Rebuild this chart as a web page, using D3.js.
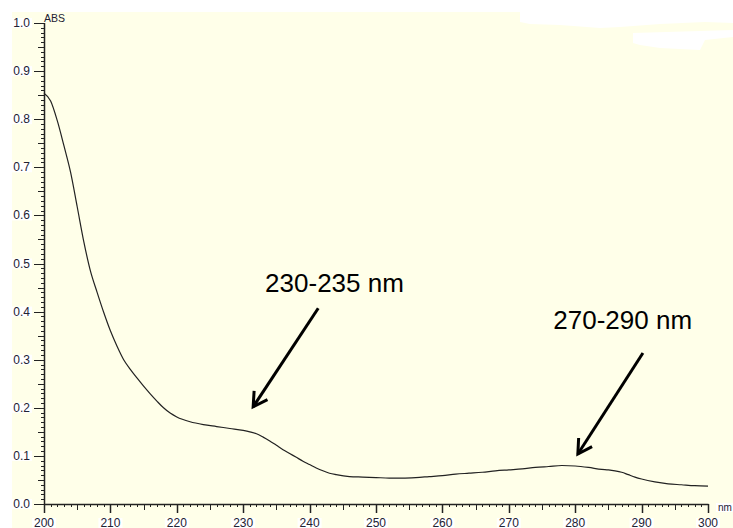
<!DOCTYPE html>
<html>
<head>
<meta charset="utf-8">
<script src="https://cdn.jsdelivr.net/npm/d3@7"></script>
<style>
  body { margin: 0; background: #fff; }
  svg { display: block; }
  text { font-family: "Liberation Sans", Arial, sans-serif; }
</style>
</head>
<body>
<svg id="chart" width="733" height="528"></svg>
<script>
// spectrum (nm, ABS)
const wavelengths = [200, 201, 202, 203, 204, 205, 206, 207, 208, 209, 210, 211, 212, 213, 214, 215, 216, 217, 218, 219,
  220, 222, 224, 226, 228, 230, 231, 232, 233, 234, 235, 236, 237, 238, 239, 240, 241, 242, 243, 244,
  246, 248, 250, 252, 254, 256, 258, 260, 262, 264, 266, 268, 270, 272, 274, 276, 278, 280, 282, 284,
  285, 286, 287, 288, 289, 290, 292, 294, 296, 298, 300];
const absorbance = [0.854, 0.838, 0.797, 0.745, 0.690, 0.618, 0.545, 0.484, 0.440, 0.398, 0.360, 0.328, 0.300, 0.280, 0.262, 0.245, 0.229, 0.214, 0.200, 0.189,
  0.181, 0.171, 0.165, 0.161, 0.157, 0.153, 0.150, 0.146, 0.139, 0.131, 0.122, 0.113, 0.105, 0.097, 0.089, 0.082, 0.075, 0.069, 0.064, 0.061,
  0.057, 0.056, 0.055, 0.054, 0.054, 0.055, 0.057, 0.059, 0.062, 0.064, 0.066, 0.069, 0.071, 0.073, 0.076, 0.078, 0.080, 0.079, 0.076, 0.072,
  0.071, 0.069, 0.066, 0.061, 0.056, 0.052, 0.046, 0.042, 0.040, 0.038, 0.037];

const xTicks = [200, 210, 220, 230, 240, 250, 260, 270, 280, 290, 300];
const yTicks = [0.0, 0.1, 0.2, 0.3, 0.4, 0.5, 0.6, 0.7, 0.8, 0.9, 1.0];

// annotations: label position and arrow tail -> tip, in data units
const annoLabels = ["230-235 nm", "270-290 nm"];
const annoText = [[233.3, 0.441], [276.7, 0.364]];
const annoTail = [[241.3, 0.407], [290.2, 0.314]];
const annoTip = [[231.5, 0.202], [280.4, 0.104]];

const svg = d3.select("#chart");

const x = d3.scaleLinear().domain([200, 300]).range([44, 708]);
const y = d3.scaleLinear().domain([0, 1]).range([504, 23]);

// pale yellow plot paper
svg.append("rect")
  .attr("x", 12).attr("y", 12)
  .attr("width", 721).attr("height", 516)
  .attr("fill", "#ffffe9");

// white scraps at the top right of the scan
svg.append("path")
  .attr("d", "M520,12 L733,12 L733,23 L705,22 L660,24 L620,27 L600,28 L560,25 L530,24 L520,22 Z")
  .attr("fill", "#fff");
svg.append("path")
  .attr("d", "M633,33 L700,31 L733,30 L733,37 L705,40 L700,50 L660,48 L640,45 L633,43 Z")
  .attr("fill", "#fff");

// minor ticks
const yMinor = d3.range(0, 101).map(d => d / 100);
svg.append("g")
  .selectAll("line")
  .data(yMinor)
  .enter()
  .append("line")
  .attr("x1", d => Math.round(d * 100) % 10 === 0 ? 34 : Math.round(d * 100) % 5 === 0 ? 38 : 41)
  .attr("x2", 44)
  .attr("y1", d => Math.round(y(d)) + 0.5)
  .attr("y2", d => Math.round(y(d)) + 0.5)
  .attr("stroke", "#222")
  .attr("stroke-width", 1);

const xMinor = d3.range(200, 301);
svg.append("g")
  .selectAll("line")
  .data(xMinor)
  .enter()
  .append("line")
  .attr("x1", d => Math.round(x(d)) + 0.5)
  .attr("x2", d => Math.round(x(d)) + 0.5)
  .attr("y1", 504)
  .attr("y2", d => d % 10 === 0 ? 513 : d % 5 === 0 ? 510 : 507)
  .attr("stroke", "#222")
  .attr("stroke-width", d => d % 10 === 0 ? 1.5 : 1);

// axis lines
svg.append("line")
  .attr("x1", 44.5).attr("x2", 44.5)
  .attr("y1", y(1)).attr("y2", 505)
  .attr("stroke", "#222").attr("stroke-width", 1.5);
svg.append("line")
  .attr("x1", 44).attr("x2", x(300) + 0.5)
  .attr("y1", 504.5).attr("y2", 504.5)
  .attr("stroke", "#222").attr("stroke-width", 1.5);

// y tick labels
const yLab = svg.append("g").selectAll("g").data(yTicks).enter().append("g");
yLab.append("rect")
  .attr("x", 12).attr("y", d => y(d) - 5)
  .attr("width", 20).attr("height", 10)
  .attr("fill", "#fff");
yLab.append("text")
  .attr("x", 30).attr("y", d => y(d) + 4)
  .attr("text-anchor", "end")
  .attr("font-size", 12)
  .attr("fill", "#222233")
  .text(d => d3.format(".1f")(d));

// x tick labels
const xLab = svg.append("g").selectAll("g").data(xTicks).enter().append("g");
xLab.append("rect")
  .attr("x", d => x(d) - 12).attr("y", 518)
  .attr("width", 24).attr("height", 10)
  .attr("fill", "#fff");
xLab.append("text")
  .attr("x", d => x(d)).attr("y", 527)
  .attr("text-anchor", "middle")
  .attr("font-size", 12)
  .attr("fill", "#222233")
  .text(d => d);

// units
svg.append("rect").attr("x", 716).attr("y", 503).attr("width", 17).attr("height", 9).attr("fill", "#fff");
svg.append("text")
  .attr("x", 718).attr("y", 511)
  .attr("font-size", 10)
  .attr("fill", "#222233")
  .text("nm");
svg.append("text")
  .attr("x", 44).attr("y", 22)
  .attr("font-size", 10.5)
  .attr("fill", "#222233")
  .text("ABS");

// spectrum
const line = d3.line()
  .x(d => x(d[0]))
  .y(d => y(d[1]))
  .curve(d3.curveMonotoneX);

svg.append("path")
  .datum(wavelengths.map((w, i) => [w, absorbance[i]]))
  .attr("d", line)
  .attr("fill", "none")
  .attr("stroke", "#222")
  .attr("stroke-width", 1.2);

// annotation arrows
annoLabels.forEach((label, i) => {
  svg.append("text")
    .attr("x", x(annoText[i][0]))
    .attr("y", y(annoText[i][1]))
    .attr("font-size", 26)
    .attr("fill", "#000")
    .text(label);

  const x0 = x(annoTail[i][0]), y0 = y(annoTail[i][1]);
  const x1 = x(annoTip[i][0]), y1 = y(annoTip[i][1]);
  const ang = Math.atan2(y1 - y0, x1 - x0);
  const len = 16, spread = Math.PI / 6;
  const h1 = [x1 - len * Math.cos(ang - spread), y1 - len * Math.sin(ang - spread)];
  const h2 = [x1 - len * Math.cos(ang + spread), y1 - len * Math.sin(ang + spread)];

  svg.append("line")
    .attr("x1", x0).attr("y1", y0)
    .attr("x2", x1).attr("y2", y1)
    .attr("stroke", "#000").attr("stroke-width", 3);
  svg.append("path")
    .attr("d", `M${h1[0]},${h1[1]} L${x1},${y1} L${h2[0]},${h2[1]}`)
    .attr("fill", "none")
    .attr("stroke", "#000")
    .attr("stroke-width", 3)
    .attr("stroke-linejoin", "miter");
});
</script>
</body>
</html>
